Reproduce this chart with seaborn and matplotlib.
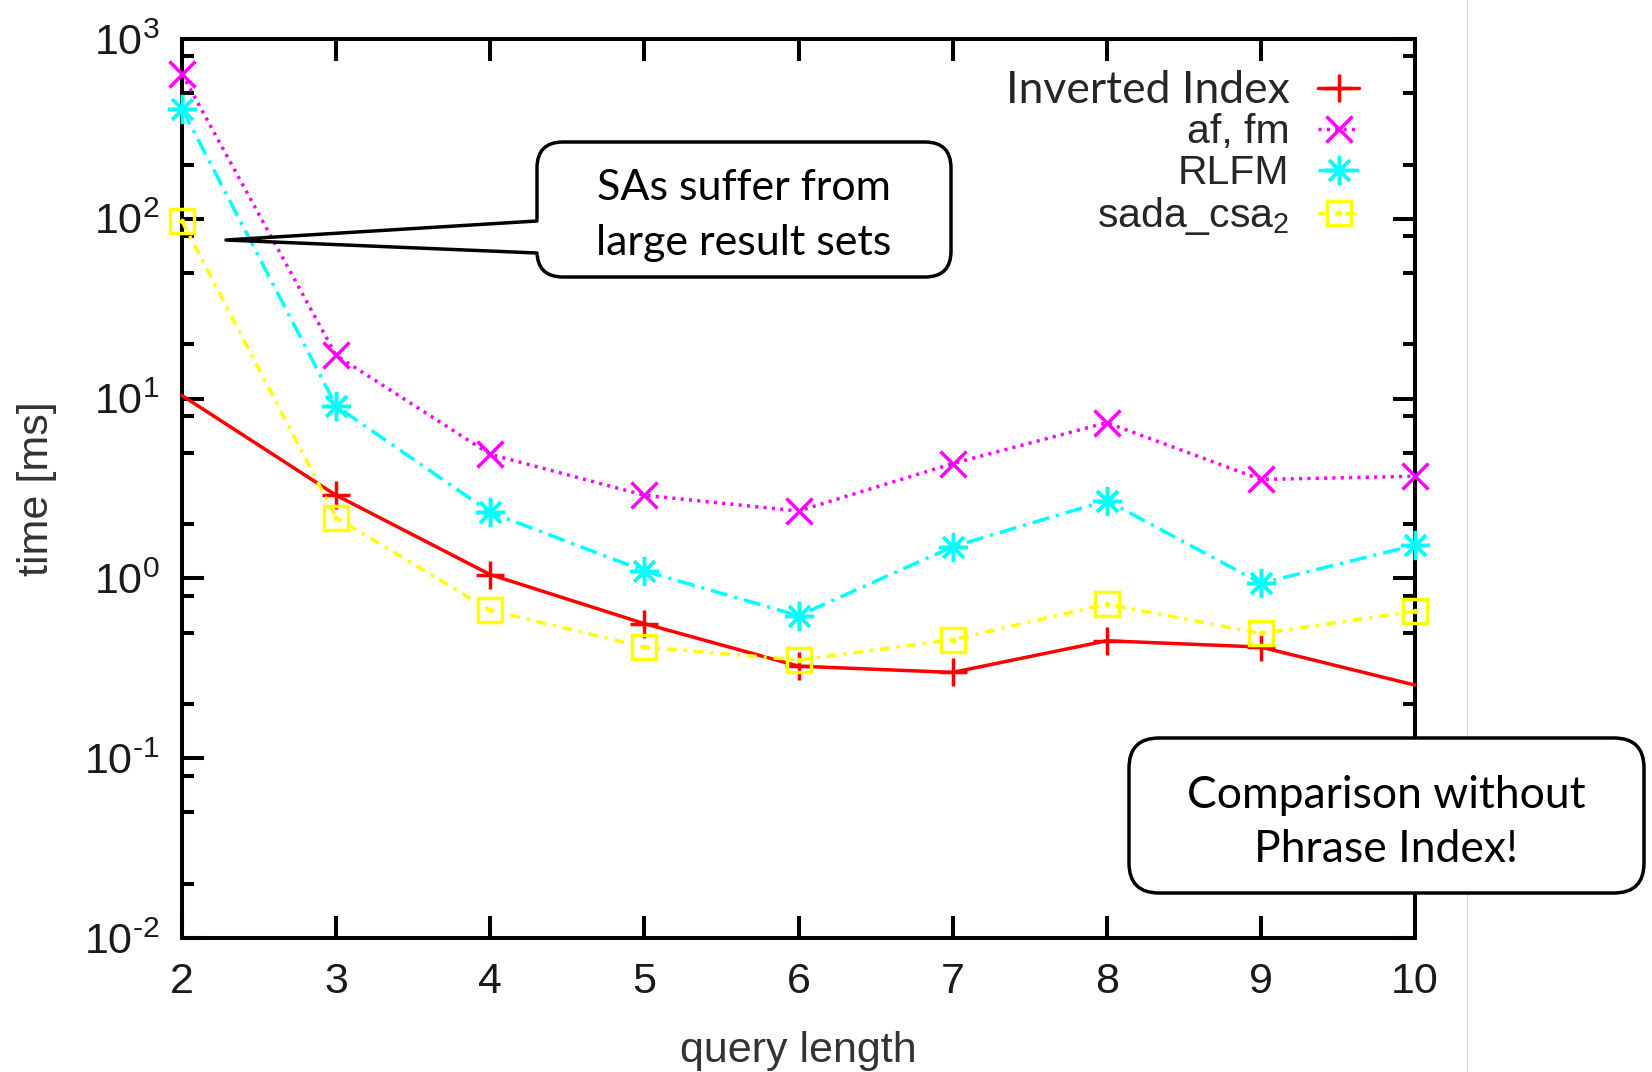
import matplotlib
matplotlib.use('Agg')
import matplotlib.pyplot as plt
import seaborn as sns
import numpy as np
from matplotlib.patches import FancyBboxPatch, Polygon
from matplotlib.lines import Line2D
from matplotlib.transforms import IdentityTransform
from matplotlib.ticker import LogLocator, NullFormatter, FixedLocator, FuncFormatter
from matplotlib.legend_handler import HandlerTuple

# query length vs. time [ms]
query_length = [2, 3, 4, 5, 6, 7, 8, 9, 10]
inverted_index = [10.4, 2.9, 1.05, 0.56, 0.325, 0.30, 0.45, 0.415, 0.255]
af_fm = [640, 17.4, 4.9, 2.9, 2.37, 4.35, 7.35, 3.55, 3.7]
rlfm = [410, 9.1, 2.33, 1.10, 0.62, 1.50, 2.71, 0.94, 1.53]
sada_csa2 = [97, 2.18, 0.665, 0.415, 0.352, 0.456, 0.72, 0.494, 0.656]

labels = ['Inverted Index', 'af, fm', 'RLFM', 'sada_csa$_2$']
x_ticks = [2, 3, 4, 5, 6, 7, 8, 9, 10]

W, H = 1652, 1072

sns.set_style('ticks')
plt.rcParams['font.family'] = ['Liberation Sans', 'DejaVu Sans']
plt.rcParams['mathtext.fontset'] = 'custom'
plt.rcParams['mathtext.rm'] = 'Liberation Sans'
plt.rcParams['mathtext.it'] = 'Liberation Sans'
plt.rcParams['mathtext.default'] = 'regular'

fig = plt.figure(figsize=(W / 100, H / 100), dpi=100)
fig.patch.set_facecolor('white')
ax = fig.add_axes([182 / W, 1 - 938 / H, (1415 - 182) / W, (938 - 39) / H])

lw = 2.5
styles = [
    dict(color='#ff0000', marker='+', markersize=20, linestyle='-', markevery=slice(1, 8)),
    dict(color='#ff00ff', marker='x', markersize=19, linestyle=(0, (0.9, 1.5))),
    dict(color='#00ffff', marker=(8, 2, 0), markersize=21, linestyle=(0, (5, 2, 0.9, 2))),
    dict(color='#ffff00', marker='s', markersize=17, linestyle=(0, (2.8, 2, 0.9, 2)),
         markerfacecolor='none'),
]

handles = []
for vals, lab, st in zip([inverted_index, af_fm, rlfm, sada_csa2], labels, styles):
    sns.lineplot(x=query_length, y=vals, ax=ax, linewidth=lw, label=lab,
                 markeredgecolor=st['color'], markeredgewidth=2.5,
                 clip_on=False, zorder=3, **st)
    handles.append(ax.get_lines()[-1])

# small dot inside the square markers
dots, = ax.plot(query_length, sada_csa2, ls='none', marker='o', ms=3,
                color='#ffff00', clip_on=False, zorder=3)
handles[3] = (handles[3], dots)


def pow10(v, pos):
    e = int(round(np.log10(v)))
    exp = r'\text{-}%d' % -e if e < 0 else '%d' % e
    return r'$\mathdefault{10^{%s}}$' % exp


ax.set_yscale('log')
ax.set_ylim(1e-2, 1e3)
ax.set_xlim(2, 10)
ax.xaxis.set_major_locator(FixedLocator(x_ticks))
ax.yaxis.set_major_locator(LogLocator(base=10, subs=(1.0,), numticks=10))
ax.yaxis.set_major_formatter(FuncFormatter(pow10))
ax.yaxis.set_minor_locator(LogLocator(base=10, subs=(2, 5, 8), numticks=20))
ax.yaxis.set_minor_formatter(NullFormatter())

for sp in ax.spines.values():
    sp.set_visible(True)
    sp.set_linewidth(2.9)
    sp.set_color('black')
ax.tick_params(which='both', direction='in', top=True, right=True,
               color='black', width=2.9)
ax.tick_params(which='major', length=16, labelsize=31, labelcolor='#1a1a1a')
ax.tick_params(which='minor', length=8.5)
ax.tick_params(axis='x', which='major', pad=17)
ax.tick_params(axis='y', which='major', pad=16)

ax.set_xlabel('query length', fontsize=31, color='#333333')
ax.set_ylabel('time [ms]', fontsize=31, color='#333333')
ax.xaxis.set_label_coords(0.5, -0.103)
ax.yaxis.set_label_coords(-0.101, 0.5)

leg = ax.legend(handles, labels, loc='upper right', bbox_to_anchor=(0.9546, 0.966),
                frameon=False, markerfirst=False, handlelength=1.0,
                handletextpad=0.7, labelspacing=0.07, borderpad=0,
                borderaxespad=0, prop={'size': 29.5},
                handler_map={tuple: HandlerTuple(ndivide=1)})
leg.get_texts()[0].set_fontfamily('Lato')
leg.get_texts()[0].set_fontsize(32)

ident = IdentityTransform()

# thin grey separator on the right
fig.add_artist(Line2D([1467, 1467], [0, H], transform=ident, color='#d4d4d4', lw=0.8))


def callout(x0, y0, x1, y1, radius, lines, line_y, size):
    box = FancyBboxPatch((x0, H - y1), x1 - x0, y1 - y0,
                         boxstyle=f'round,pad=0,rounding_size={radius}',
                         transform=ident, facecolor='white', edgecolor='black',
                         linewidth=2.5, zorder=5)
    fig.add_artist(box)
    for s, ly in zip(lines, line_y):
        fig.text((x0 + x1) / 2, H - ly, s, transform=ident, ha='center', va='center',
                 fontsize=size, family='Lato', color='black', zorder=8)


callout(537, 142, 951, 277, 26, ['SAs suffer from', 'large result sets'], [188, 243], 31)
# pointer of first callout
fig.add_artist(Polygon([(542, H - 219), (505, H - 225), (505, H - 249), (542, H - 255)],
                       transform=ident, facecolor='white', edgecolor='none', zorder=6))
fig.add_artist(Line2D([537, 226, 537], [H - 221, H - 240, H - 253], transform=ident,
                      color='black', lw=2.5, zorder=7))

callout(1129, 738, 1644, 893, 30, ['Comparison without', 'Phrase Index!'], [795, 849], 32)

fig.savefig('out.png', dpi=100)
